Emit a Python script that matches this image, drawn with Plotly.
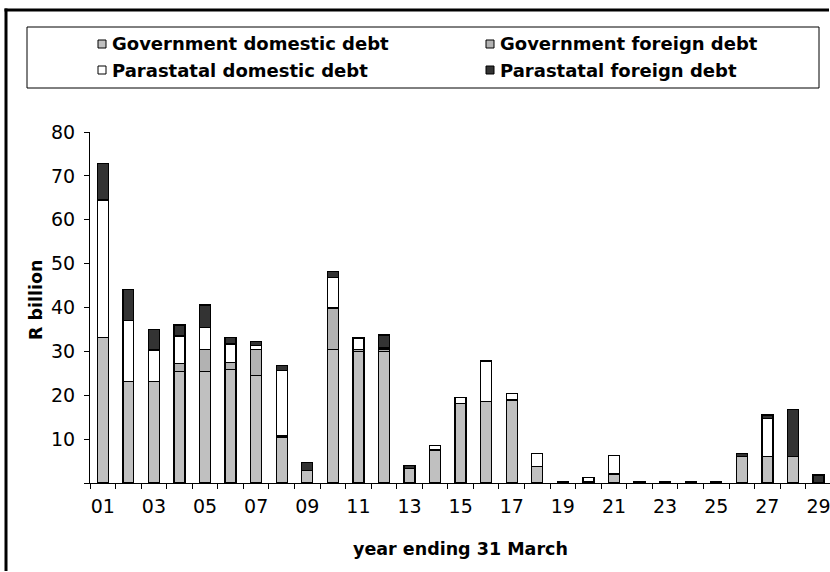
import plotly.graph_objects as go

# Debt redemption schedule, R billion, by year ending 31 March
years = ["01", "02", "03", "04", "05", "06", "07", "08", "09", "10",
         "11", "12", "13", "14", "15", "16", "17", "18", "19", "20",
         "21", "22", "23", "24", "25", "26", "27", "28", "29"]

gov_domestic = [33.1, 23.2, 23.1, 25.4, 25.4, 25.9, 24.5, 10.5, 2.9, 30.5,
                29.9, 29.9, 3.3, 7.5, 18.1, 18.5, 18.9, 3.8, None, 0.3,
                2.0, None, None, None, None, 6.1, 6.1, 6.1, None]
gov_foreign = [None, None, None, 1.9, 5.1, 1.5, 6.0, 0.3, None, 9.4,
               0.6, 0.5, None, None, None, None, None, None, None, None,
               0.2, None, None, None, None, None, None, None, None]
para_domestic = [31.4, 13.9, 7.2, 6.2, 4.9, 4.3, 0.8, 14.9, None, 7.0,
                 2.4, 0.4, None, 1.0, 1.4, 9.3, 1.5, 2.9, None, 0.9,
                 4.1, None, None, None, None, None, 8.6, None, None]
para_foreign = [8.4, 7.0, 4.7, 2.5, 5.2, 1.5, 0.9, 1.1, 1.7, 1.3,
                0.3, 2.9, 0.7, None, None, None, None, None, 0.3, None,
                None, 0.3, 0.3, 0.3, 0.3, 0.6, 0.8, 10.7, 1.8]

series = [
    ("Government domestic debt", gov_domestic, "#c0c0c0"),
    ("Government foreign debt", gov_foreign, "#b2b2b2"),
    ("Parastatal domestic debt", para_domestic, "#ffffff"),
    ("Parastatal foreign debt", para_foreign, "#333333"),
]

FONT = "DejaVu Sans"
W, H = 830, 572
ML, MR, MT, MB = 90, 0, 132, 89
PW, PH = W - ML - MR, H - MT - MB


def px_x(x):
    return (x - ML) / PW


def px_y(y):
    return (H - MB - y) / PH


pos = list(range(len(years)))

fig = go.Figure()
for name, vals, color in series:
    fig.add_trace(go.Bar(
        x=pos, y=vals, name=name, width=0.43,
        marker=dict(color=color, line=dict(color="#000000", width=1.3)),
        showlegend=False,
    ))

shapes = []
annotations = []

# outer frame: left and top edges
frame = dict(color="#000000", width=3)
shapes.append(dict(type="line", xref="paper", yref="paper",
                   x0=px_x(6), x1=px_x(6), y0=px_y(571), y1=px_y(8.5), line=frame))
shapes.append(dict(type="line", xref="paper", yref="paper",
                   x0=px_x(4.5), x1=px_x(829), y0=px_y(10), y1=px_y(10), line=frame))

# legend box
shapes.append(dict(type="rect", xref="paper", yref="paper",
                   x0=px_x(27), x1=px_x(819), y0=px_y(88), y1=px_y(27),
                   line=dict(color="#000000", width=1), fillcolor="#ffffff"))

legend_pos = [(98, 44), (486, 44), (98, 70), (486, 70)]
for (name, _, color), (lx, ly) in zip(series, legend_pos):
    shapes.append(dict(type="rect", xref="paper", yref="paper",
                       x0=px_x(lx), x1=px_x(lx + 8), y0=px_y(ly + 4), y1=px_y(ly - 4),
                       line=dict(color="#000000", width=1), fillcolor=color))
    annotations.append(dict(xref="paper", yref="paper", x=px_x(lx + 12), y=px_y(ly),
                            xanchor="left", yanchor="middle", showarrow=False,
                            text="<b>%s</b>" % name,
                            font=dict(family=FONT, size=18, color="#000000")))

# axis titles
annotations.append(dict(xref="paper", yref="paper", x=px_x(36), y=px_y(300),
                        xanchor="center", yanchor="middle", showarrow=False,
                        text="<b>R billion</b>", textangle=-90,
                        font=dict(family=FONT, size=17.5, color="#000000")))
annotations.append(dict(xref="paper", yref="paper", x=px_x(460), y=px_y(549),
                        xanchor="center", yanchor="middle", showarrow=False,
                        text="<b>year ending 31 March</b>",
                        font=dict(family=FONT, size=17.5, color="#000000")))

fig.update_layout(
    barmode="stack",
    width=W, height=H,
    margin=dict(l=ML, r=MR, t=MT, b=MB, pad=0),
    paper_bgcolor="#ffffff", plot_bgcolor="#ffffff",
    font=dict(family=FONT, size=19, color="#000000"),
    shapes=shapes, annotations=annotations,
    xaxis=dict(
        range=[-0.5, 28.45],
        tickmode="array", tickvals=pos[::2], ticktext=years[::2],
        ticks="", showgrid=False, zeroline=False,
        showline=True, linecolor="#000000", linewidth=1,
        ticklabelstandoff=6, ticklabeloverflow="allow",
        tickfont=dict(family=FONT, size=19, color="#000000"),
        minor=dict(ticks="outside", tick0=-0.5, dtick=1, ticklen=5,
                   tickcolor="#000000", tickwidth=1, showgrid=False),
    ),
    yaxis=dict(
        range=[0, 80],
        tickmode="array", tickvals=[0, 10, 20, 30, 40, 50, 60, 70, 80],
        ticktext=["", "10", "20", "30", "40", "50", "60", "70", "80"],
        ticks="outside", ticklen=5, tickcolor="#000000", tickwidth=1,
        showgrid=False, zeroline=False,
        showline=True, linecolor="#000000", linewidth=1,
        ticklabelstandoff=5,
        tickfont=dict(family=FONT, size=19, color="#000000"),
    ),
)

fig.write_html("out.html")
